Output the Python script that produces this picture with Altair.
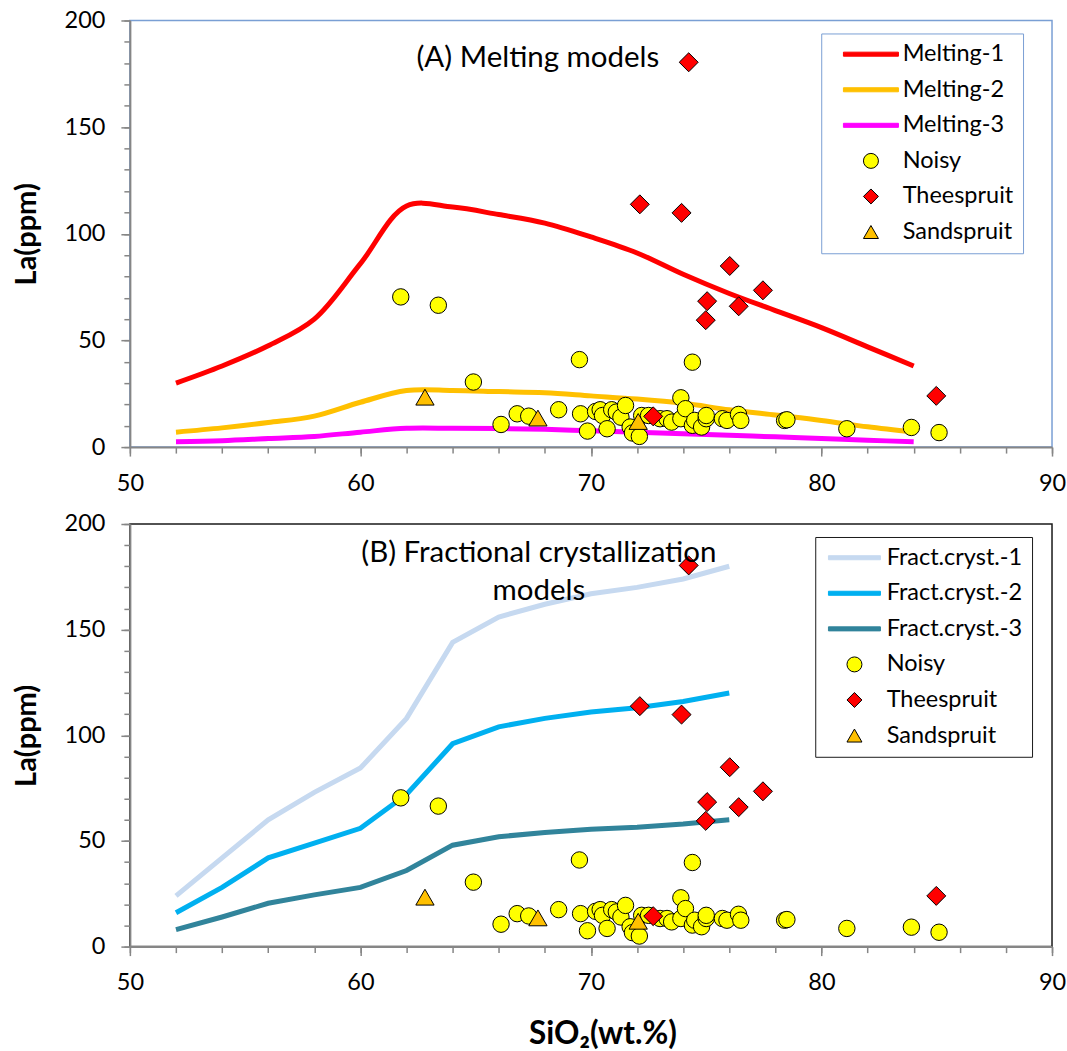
import altair as alt
import pandas as pd

# ---------------- model curves: La (ppm) against SiO2 (wt.%) ----------------
melt_sio2 = [52, 54, 56, 58, 60, 62, 64, 66, 68, 70, 72, 74, 76, 78, 80, 82, 84]
melting_1 = [30, 38, 47.5, 60, 86, 113, 112.5, 109, 105, 98.5, 91, 81, 72, 64, 56, 47, 38]
melting_2 = [7, 9, 11.5, 14.5, 21, 26.5, 26.5, 26, 25.5, 24, 22.5, 20.5, 17.5, 15, 12.5, 9.5, 7]
melting_3 = [2.5, 3, 4, 5, 7, 8.8, 8.8, 8.7, 8.3, 7.6, 7, 6.3, 5.5, 4.8, 4, 3.2, 2.5]

fc_sio2 = [52, 54, 56, 58, 60, 62, 64, 66, 68, 70, 72, 74, 76]
fract_cryst_1 = [24, 42, 60, 73, 84.5, 108, 144, 156, 162, 167, 170, 174, 180]
fract_cryst_2 = [16, 28, 42, 49, 56, 72, 96, 104, 108, 111, 113, 116, 120]
fract_cryst_3 = [8, 14, 20.5, 24.5, 28, 36, 48, 52, 54, 55.5, 56.5, 58, 60]

# ---------------- samples ----------------
noisy_sio2 = [61.75, 63.38, 64.9, 69.5, 74.4, 66.1, 66.8, 67.3, 68.6, 69.55, 69.85,
              70.2, 70.4, 70.5, 70.7, 70.9, 71.1, 71.3, 71.5, 71.7, 71.8, 72.1,
              72.2, 72.5, 73.0, 73.3, 73.5, 73.9, 73.9, 74.1, 74.4, 74.5, 74.8,
              75.0, 75.0, 75.7, 75.9, 76.4, 76.5, 78.4, 78.5, 81.1, 83.9, 85.1]
noisy_la = [70.4, 66.5, 30.5, 41.0, 39.8, 10.6, 15.6, 14.5, 17.5, 15.6, 7.5,
            16.7, 17.5, 14.8, 8.6, 17.5, 16.4, 14.0, 19.5, 9.4, 6.6, 5.0,
            14.8, 14.8, 13.3, 13.3, 11.7, 23.1, 13.3, 18.0, 10.2, 12.5, 9.4,
            13.3, 14.8, 13.3, 12.5, 15.3, 12.5, 12.5, 12.8, 8.6, 9.2, 6.8]
theespruit_sio2 = [74.24, 72.12, 73.93, 76.02, 77.46, 75.04, 76.41, 74.98, 84.98, 72.7]
theespruit_la = [180.4, 113.8, 109.8, 84.9, 73.5, 68.4, 66.0, 59.5, 24.0, 14.4]
sandspruit_sio2 = [62.8, 67.7, 72.05]
sandspruit_la = [23.4, 13.6, 12.0]

# ---------------- axis ticks ----------------
x_major = [50, 60, 70, 80, 90]
x_minor = list(range(50, 91, 2))
y_major = [0, 50, 100, 150, 200]
y_minor = list(range(0, 201, 10))

FONT = "Lato"
GREY = "#868686"
PANEL_W = 923

sample_names = ["Noisy", "Theespruit", "Sandspruit"]
sample_fill = ["#FFFF00", "#FF0000", "#FFC000"]
sample_shape = ["circle", "diamond", "triangle-up"]
sample_size = [270, 361, 335]

samples = pd.DataFrame({
    "sio2": noisy_sio2 + theespruit_sio2 + sandspruit_sio2,
    "la": noisy_la + theespruit_la + sandspruit_la,
    "series": ["Noisy"] * len(noisy_sio2) + ["Theespruit"] * len(theespruit_sio2)
              + ["Sandspruit"] * len(sandspruit_sio2),
})


def model_frame(sio2, curves, names):
    rows = []
    for name, vals in zip(names, curves):
        for s, v in zip(sio2, vals):
            rows.append({"sio2": s, "la": v, "series": name, "seq": s})
    return pd.DataFrame(rows)


def pick(names, values, fallback):
    expr = fallback
    for n, v in zip(reversed(names), reversed(values)):
        expr = f"datum.value === '{n}' ? {v} : ({expr})"
    return expr


def make_legend(line_names, line_colors, half_len, border, lx, ly, sym_off, lab_off):
    # model curves are shown as short thick bars, samples as outlined symbols
    bar = f"'M-{half_len},-0.27L{half_len},-0.27L{half_len},0.27L-{half_len},0.27Z'"
    names = line_names + sample_names
    shapes = [bar] * 3 + [f"'{s}'" for s in sample_shape]
    strokes = [f"'{c}'" for c in line_colors] + ["'#000000'"] * 3
    return alt.Legend(
        title=None, orient="none", legendX=lx, legendY=ly, direction="vertical",
        strokeColor=border, fillColor="white", padding=9, cornerRadius=0,
        symbolSize=225, symbolStrokeWidth=1, symbolOffset=sym_off, labelOffset=lab_off,
        symbolType=alt.ExprRef(expr=pick(names, shapes, "'circle'")),
        symbolStrokeColor=alt.ExprRef(expr=pick(names, strokes, "'#000000'")),
        symbolOpacity=1,
        labelFont=FONT, labelFontSize=23.5, labelColor="black", rowPadding=10.6,
    )


def panel(lines_df, line_names, line_colors, interp, note, note_x, note_y,
          height, border, legend, x_title):
    xs = alt.Scale(domain=[50, 90], nice=False, zero=False)
    ys = alt.Scale(domain=[0, 200], nice=False)
    names = line_names + sample_names
    cscale = alt.Scale(domain=names, range=line_colors + sample_fill)

    x_major_axis = dict(values=x_major, orient="bottom", tickSize=9, tickWidth=1.5,
                        tickColor=GREY, domainColor=GREY, domainWidth=2, grid=False,
                        labelFont=FONT, labelFontSize=23.5, labelColor="black",
                        labelPadding=15, labelFlush=False)
    if x_title:
        x_major_axis.update(title=x_title, titleFont=FONT, titleFontSize=31.5,
                            titleFontWeight="bold", titleColor="black",
                            titleX=473, titleY=88, titleAlign="center",
                            titleBaseline="middle")
    else:
        x_major_axis.update(title=None)
    y_major_axis = alt.Axis(values=y_major, orient="left", tickSize=9, tickWidth=1.5,
                            tickColor=GREY, domainColor=GREY, domainWidth=2, grid=False,
                            labelFont=FONT, labelFontSize=23.5, labelColor="black",
                            labelPadding=16, labelFlush=False,
                            title="La(ppm)", titleFont=FONT, titleFontSize=29,
                            titleFontWeight="bold", titleColor="black",
                            titleX=-103, titleY=height / 2, titleAlign="center",
                            titleBaseline="middle", titleAngle=270)
    x_minor_axis = alt.Axis(values=x_minor, orient="bottom", tickSize=6, tickWidth=1.5,
                            tickColor=GREY, labels=False, domain=False, grid=False, title=None)
    y_minor_axis = alt.Axis(values=y_minor, orient="left", tickSize=6, tickWidth=1.5,
                            tickColor=GREY, labels=False, domain=False, grid=False, title=None)

    ticks = alt.Chart(samples).mark_point(opacity=0).encode(
        x=alt.X("sio2:Q", scale=xs, axis=x_minor_axis),
        y=alt.Y("la:Q", scale=ys, axis=y_minor_axis),
    )
    lines = alt.Chart(lines_df).mark_line(strokeWidth=5, interpolate=interp).encode(
        x=alt.X("sio2:Q", scale=xs, axis=alt.Axis(**x_major_axis)),
        y=alt.Y("la:Q", scale=ys, axis=y_major_axis),
        stroke=alt.Stroke("series:N", scale=alt.Scale(domain=line_names, range=line_colors),
                          legend=None),
        order="seq:Q",
    )
    layers = [ticks, lines]
    for name, shape, size in zip(sample_names, sample_shape, sample_size):
        layers.append(
            alt.Chart(samples).transform_filter(alt.datum.series == name).mark_point(
                shape=shape, size=size, filled=True, opacity=1,
                stroke="black", strokeWidth=1,
            ).encode(
                x=alt.X("sio2:Q", scale=xs, axis=None),
                y=alt.Y("la:Q", scale=ys, axis=None),
                color=alt.Color("series:N", scale=cscale, legend=legend),
            )
        )
    label = alt.Chart(pd.DataFrame({"x": [note_x], "y": [note_y], "t": [note]})).mark_text(
        font=FONT, fontSize=29.5, color="black", align="center", baseline="middle",
        lineBreak="\n", lineHeight=38.5,
    ).encode(
        x=alt.X("x:Q", scale=xs, axis=None),
        y=alt.Y("y:Q", scale=ys, axis=None),
        text="t:N",
    )
    layers.append(label)
    return alt.layer(*layers).resolve_axis(x="independent", y="independent").properties(
        width=PANEL_W, height=height,
        view=alt.ViewBackground(stroke=border, strokeWidth=1.5, fill="white"),
    )


melt_names = ["Melting-1", "Melting-2", "Melting-3"]
melt_colors = ["#FF0000", "#FFC000", "#FF00FF"]
fc_names = ["Fract.cryst.-1", "Fract.cryst.-2", "Fract.cryst.-3"]
fc_colors = ["#C6D9F0", "#00B0F0", "#31849B"]

panel_a = panel(
    model_frame(melt_sio2, [melting_1, melting_2, melting_3], melt_names),
    melt_names, melt_colors, "catmull-rom", "(A) Melting models", 67.7, 182.4,
    427, "#7A9FD4",
    make_legend(melt_names, melt_colors, 3.67, "#7A9FD4", 692, 13, 29, 20),
    None,
)
panel_b = panel(
    model_frame(fc_sio2, [fract_cryst_1, fract_cryst_2, fract_cryst_3], fc_names),
    fc_names, fc_colors, "linear", "(B) Fractional crystallization\nmodels", 67.74, 186.4,
    423, "#1A1A1A",
    make_legend(fc_names, fc_colors, 3.47, "#1A1A1A", 686, 13, 18.5, 20.5),
    "SiO₂(wt.%)",
)

chart = alt.vconcat(panel_a, panel_b, spacing=15).resolve_scale(
    color="independent", stroke="independent"
).resolve_legend(color="independent").properties(
    padding={"left": 12, "top": 7, "right": 0, "bottom": 0},
    background="white",
).configure(font=FONT)

chart.save("out.html", embed_options={"renderer": "svg", "actions": False})
